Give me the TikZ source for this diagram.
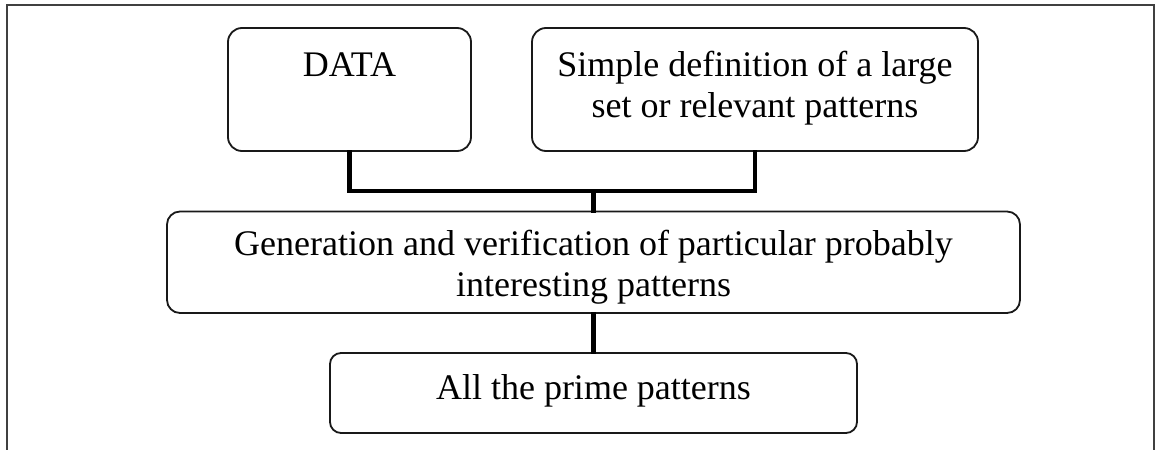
\documentclass[tikz,border=0pt]{standalone}
\usepackage{fontspec}
\setmainfont{Liberation Serif}
% top-aligned text block of fixed size inside a box
\newcommand{\boxtext}[4]{\parbox[c][#2][t]{#1}{\centering\vspace*{#3}#4}}
\newcommand{\ls}{\rule{0pt}{30pt}}
\begin{document}
\begin{tikzpicture}[x=1pt,y=-1pt,
  box/.style={draw=black!90, line width=1.8pt, inner sep=0pt, fill=white,
              font=\fontsize{36}{41}\selectfont},
  conn/.style={draw=black, line width=4.2pt, line cap=rect},
  frame/.style={draw=black!75, line width=1.6pt}]
  \useasboundingbox (0,0) rectangle (1160,450);
  \fill[white] (0,0) rectangle (1160,450);
  % outer frame (open at the bottom)
  \draw[frame] (7,450) -- (7,5) -- (1154,5) -- (1154,450);

  % boxes
  \node[box, rounded corners=14pt] (data) at (349.5,89.5)
    {\boxtext{243pt}{123pt}{18pt}{\ls DATA}};
  \node[box, rounded corners=14pt] (simple) at (755,89.5)
    {\boxtext{446pt}{123pt}{18pt}{\ls Simple definition of a large\\\ls set or relevant patterns}};
  \node[box, rounded corners=13pt] (gen) at (593.5,262.25)
    {\boxtext{853pt}{101.5pt}{13.5pt}{\ls Generation and verification of particular probably\\\ls interesting patterns}};
  \node[box, rounded corners=11pt] (prime) at (593.5,393)
    {\boxtext{527pt}{80pt}{16pt}{\ls All the prime patterns}};

  % connectors
  \coordinate (bus) at (0,191);
  \draw[conn] (data.south) -- (data.south |- bus) -- (simple.south |- bus) -- (simple.south);
  \draw[conn] (gen.north |- bus) -- (gen.north);
  \draw[conn] (gen.south) -- (prime.north);
\end{tikzpicture}
\end{document}
